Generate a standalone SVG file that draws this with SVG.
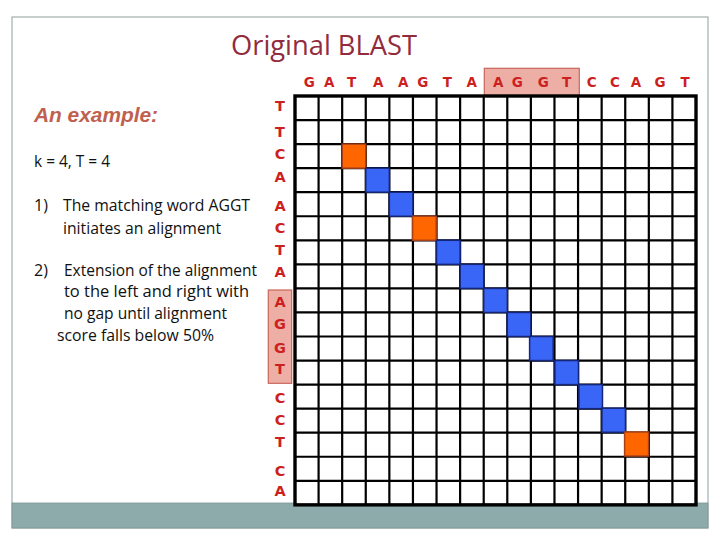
<svg xmlns="http://www.w3.org/2000/svg" width="720" height="540" viewBox="0 0 720 540">
  <style>
    .title { font-family: "Open Sans", "Liberation Sans", sans-serif; font-size: 28px; fill: #922B3E; }
    .ex { font-family: "Liberation Sans", "Open Sans", sans-serif; font-size: 20px; font-weight: bold; font-style: italic; fill: #C0604F; }
    .body { font-family: "Open Sans", "Liberation Sans", sans-serif; font-size: 16px; fill: #111111; }
    .seq { font-family: "DejaVu Sans", "Liberation Sans", sans-serif; font-size: 13.5px; font-weight: bold; fill: #CC1F1F; text-anchor: middle; }
    .seqL { font-family: "DejaVu Sans", "Liberation Sans", sans-serif; font-size: 14.5px; font-weight: bold; fill: #CC1F1F; text-anchor: middle; }
    .hl { fill: #EDAFA5; stroke: #C8665B; stroke-width: 1.2; }
    .blue { fill: #3A66F8; stroke: #14267A; stroke-width: 1.5; }
    .orange { fill: #FF6600; stroke: #A8401A; stroke-width: 1.5; }
  </style>

  <!-- slide frame -->
  <g id="frame">
    <rect x="12" y="17" width="696" height="511" fill="#FFFFFF" stroke="#8E9E9E" stroke-width="1"/>
    <rect x="12" y="503" width="696" height="25" fill="#8CABAA" stroke="#7F9696" stroke-width="0.8"/>
  </g>

  <g id="title">
    <text class="title" x="231" y="55" textLength="186" lengthAdjust="spacingAndGlyphs">Original BLAST</text>
  </g>

  <g id="explanation">
    <text class="ex" x="34" y="122" textLength="124" lengthAdjust="spacingAndGlyphs">An example:</text>
    <text class="body" x="34" y="167" textLength="76" lengthAdjust="spacingAndGlyphs">k = 4, T = 4</text>
    <text class="body" x="34" y="211">1)</text>
    <text class="body" x="63" y="211" textLength="187" lengthAdjust="spacingAndGlyphs">The matching word AGGT</text>
    <text class="body" x="63" y="234" textLength="158" lengthAdjust="spacingAndGlyphs">initiates an alignment</text>
    <text class="body" x="34" y="276">2)</text>
    <text class="body" x="64" y="276" textLength="193" lengthAdjust="spacingAndGlyphs">Extension of the alignment</text>
    <text class="body" x="64" y="297" textLength="185" lengthAdjust="spacingAndGlyphs">to the left and right with</text>
    <text class="body" x="64" y="319" textLength="163" lengthAdjust="spacingAndGlyphs">no gap until alignment</text>
    <text class="body" x="57" y="341" textLength="157" lengthAdjust="spacingAndGlyphs">score falls below 50%</text>
  </g>

  <!-- highlight boxes for the word AGGT -->
  <g id="highlights">
    <rect class="hl" x="484.3" y="68.3" width="95" height="28"/>
    <rect class="hl" x="268.3" y="290" width="23.4" height="93.3"/>
  </g>

  <!-- top sequence -->
  <g id="top-sequence">
    <text class="seq" x="309.3" y="86.7">G</text>
    <text class="seq" x="329.3" y="86.7">A</text>
    <text class="seq" x="351.7" y="86.7">T</text>
    <text class="seq" x="378.3" y="86.7">A</text>
    <text class="seq" x="403.3" y="86.7">A</text>
    <text class="seq" x="422.7" y="86.7">G</text>
    <text class="seq" x="447.3" y="86.7">T</text>
    <text class="seq" x="471.7" y="86.7">A</text>
    <text class="seq" x="498.3" y="86.7">A</text>
    <text class="seq" x="517.3" y="86.7">G</text>
    <text class="seq" x="543.3" y="86.7">G</text>
    <text class="seq" x="566.7" y="86.7">T</text>
    <text class="seq" x="591.7" y="86.7">C</text>
    <text class="seq" x="615" y="86.7">C</text>
    <text class="seq" x="636" y="86.7">A</text>
    <text class="seq" x="660" y="86.7">G</text>
    <text class="seq" x="685" y="86.7">T</text>
  </g>

  <!-- left sequence -->
  <g id="left-sequence">
    <text class="seqL" x="280" y="110.7">T</text>
    <text class="seqL" x="280" y="136.7">T</text>
    <text class="seqL" x="280" y="159.3">C</text>
    <text class="seqL" x="280" y="182.3">A</text>
    <text class="seqL" x="280" y="211.3">A</text>
    <text class="seqL" x="280" y="233.3">C</text>
    <text class="seqL" x="280" y="254.7">T</text>
    <text class="seqL" x="280" y="277.3">A</text>
    <text class="seqL" x="280" y="306.7">A</text>
    <text class="seqL" x="280" y="329.3">G</text>
    <text class="seqL" x="280" y="352.7">G</text>
    <text class="seqL" x="280" y="374">T</text>
    <text class="seqL" x="280" y="402.7">C</text>
    <text class="seqL" x="280" y="425">C</text>
    <text class="seqL" x="280" y="446.7">T</text>
    <text class="seqL" x="280" y="476">C</text>
    <text class="seqL" x="280" y="496">A</text>
  </g>

  <!-- dot-plot grid -->
  <g id="grid">
    <rect x="295" y="96" width="401" height="408.85" fill="#FFFFFF"/>
    <path fill="none" stroke="#000000" stroke-width="2.2" d="
      M318.59 96 V504.85 M342.18 96 V504.85 M365.76 96 V504.85 M389.35 96 V504.85
      M412.94 96 V504.85 M436.53 96 V504.85 M460.12 96 V504.85 M483.71 96 V504.85
      M507.29 96 V504.85 M530.88 96 V504.85 M554.47 96 V504.85 M578.06 96 V504.85
      M601.65 96 V504.85 M625.24 96 V504.85 M648.82 96 V504.85 M672.41 96 V504.85
      M295 120.05 H696 M295 144.1 H696 M295 168.15 H696 M295 192.2 H696
      M295 216.25 H696 M295 240.3 H696 M295 264.35 H696 M295 288.4 H696
      M295 312.45 H696 M295 336.5 H696 M295 360.55 H696 M295 384.6 H696
      M295 408.65 H696 M295 432.7 H696 M295 456.75 H696 M295 480.8 H696"/>
    <rect x="295" y="96" width="401" height="408.85" fill="none" stroke="#000000" stroke-width="3.4"/>
  </g>

  <!-- diagonal hits -->
  <g id="hits">
    <rect class="orange" x="342.18" y="144.1" width="23.59" height="24.05"/>
    <rect class="blue" x="365.76" y="168.15" width="23.59" height="24.05"/>
    <rect class="blue" x="389.35" y="192.2" width="23.59" height="24.05"/>
    <rect class="orange" x="412.6" y="216.25" width="23.59" height="24.05"/>
    <rect class="blue" x="436.53" y="240.3" width="23.59" height="24.05"/>
    <rect class="blue" x="460.12" y="264.35" width="23.59" height="24.05"/>
    <rect class="blue" x="483.71" y="288.4" width="23.59" height="24.05"/>
    <rect class="blue" x="507.29" y="312.45" width="23.59" height="24.05"/>
    <rect class="blue" x="529.6" y="336.5" width="23.59" height="24.05"/>
    <rect class="blue" x="554.9" y="360.55" width="23.59" height="24.05"/>
    <rect class="blue" x="578.9" y="384.6" width="23.59" height="24.05"/>
    <rect class="blue" x="601.9" y="408.2" width="23.59" height="24.05"/>
    <rect class="orange" x="624.6" y="432" width="24" height="24.05"/>
  </g>
</svg>
